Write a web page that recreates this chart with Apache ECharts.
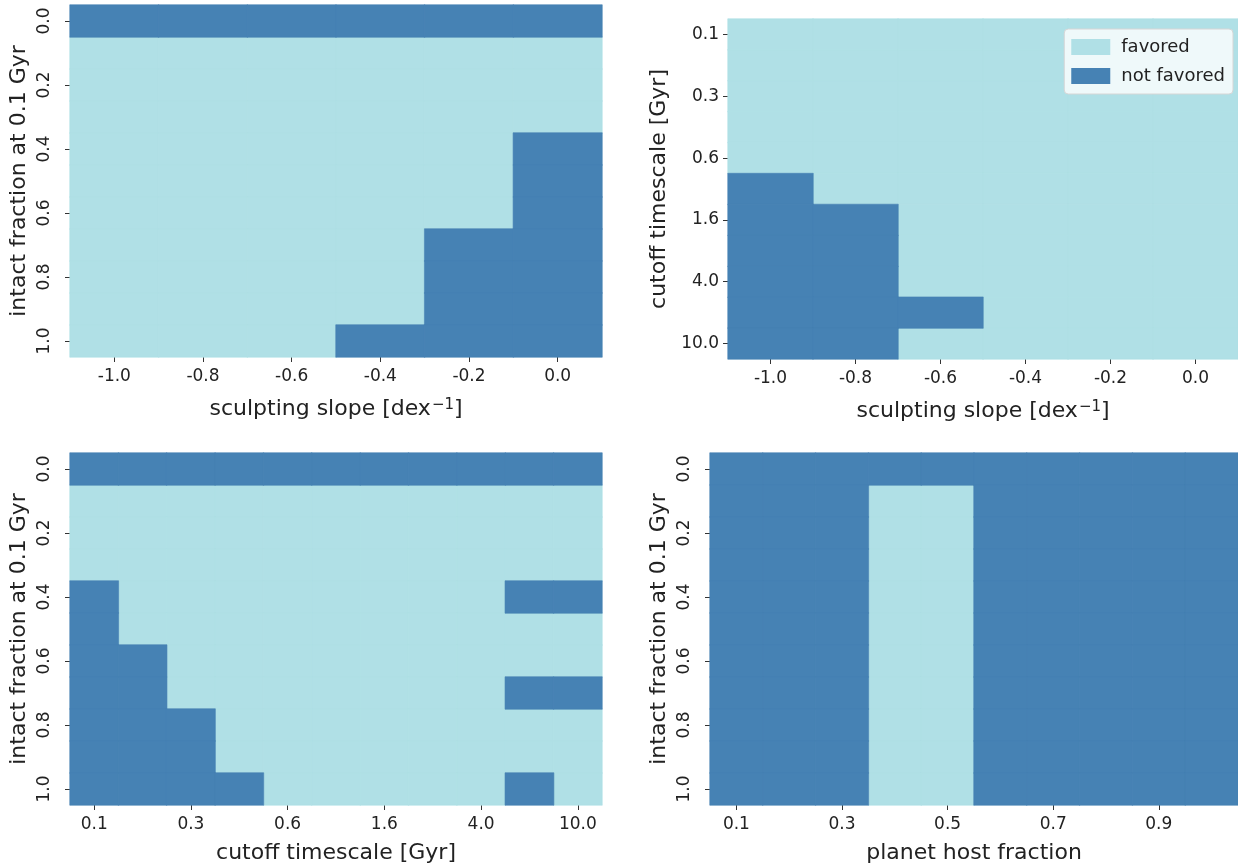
<!DOCTYPE html>
<html>
<head>
<meta charset="utf-8">
<title>Favored parameter regions</title>
<script src="https://cdn.jsdelivr.net/npm/echarts@6/dist/echarts.min.js"></script>
<style>
  html, body { margin: 0; padding: 0; background: #ffffff; }
  #chart { width: 1238px; height: 867px; }
</style>
</head>
<body>
<div id="chart"></div>
<script>
// Axis categories
const slopeLabels = ['-1.0', '-0.8', '-0.6', '-0.4', '-0.2', '0.0'];
const intactLabels = ['0.0', '0.1', '0.2', '0.3', '0.4', '0.5', '0.6', '0.7', '0.8', '0.9', '1.0'];
const cutoffLabels = ['0.1', '0.2', '0.3', '0.4', '0.6', '1.0', '1.6', '2.5', '4.0', '6.3', '10.0'];
const hostLabels = ['0.1', '0.2', '0.3', '0.4', '0.5', '0.6', '0.7', '0.8', '0.9', '1.0'];

// Outcome grids: one row per y category (top to bottom), one column per x category.
// 1 = not favored, 0 = favored.
const slopeVsIntact = [
  [1, 1, 1, 1, 1, 1],
  [0, 0, 0, 0, 0, 0],
  [0, 0, 0, 0, 0, 0],
  [0, 0, 0, 0, 0, 0],
  [0, 0, 0, 0, 0, 1],
  [0, 0, 0, 0, 0, 1],
  [0, 0, 0, 0, 0, 1],
  [0, 0, 0, 0, 1, 1],
  [0, 0, 0, 0, 1, 1],
  [0, 0, 0, 0, 1, 1],
  [0, 0, 0, 1, 1, 1]
];

const slopeVsCutoff = [
  [0, 0, 0, 0, 0, 0],
  [0, 0, 0, 0, 0, 0],
  [0, 0, 0, 0, 0, 0],
  [0, 0, 0, 0, 0, 0],
  [0, 0, 0, 0, 0, 0],
  [1, 0, 0, 0, 0, 0],
  [1, 1, 0, 0, 0, 0],
  [1, 1, 0, 0, 0, 0],
  [1, 1, 0, 0, 0, 0],
  [1, 1, 1, 0, 0, 0],
  [1, 1, 0, 0, 0, 0]
];

const cutoffVsIntact = [
  [1, 1, 1, 1, 1, 1, 1, 1, 1, 1, 1],
  [0, 0, 0, 0, 0, 0, 0, 0, 0, 0, 0],
  [0, 0, 0, 0, 0, 0, 0, 0, 0, 0, 0],
  [0, 0, 0, 0, 0, 0, 0, 0, 0, 0, 0],
  [1, 0, 0, 0, 0, 0, 0, 0, 0, 1, 1],
  [1, 0, 0, 0, 0, 0, 0, 0, 0, 0, 0],
  [1, 1, 0, 0, 0, 0, 0, 0, 0, 0, 0],
  [1, 1, 0, 0, 0, 0, 0, 0, 0, 1, 1],
  [1, 1, 1, 0, 0, 0, 0, 0, 0, 0, 0],
  [1, 1, 1, 0, 0, 0, 0, 0, 0, 0, 0],
  [1, 1, 1, 1, 0, 0, 0, 0, 0, 1, 0]
];

const hostVsIntact = [
  [1, 1, 1, 1, 1, 1, 1, 1, 1, 1],
  [1, 1, 1, 0, 0, 1, 1, 1, 1, 1],
  [1, 1, 1, 0, 0, 1, 1, 1, 1, 1],
  [1, 1, 1, 0, 0, 1, 1, 1, 1, 1],
  [1, 1, 1, 0, 0, 1, 1, 1, 1, 1],
  [1, 1, 1, 0, 0, 1, 1, 1, 1, 1],
  [1, 1, 1, 0, 0, 1, 1, 1, 1, 1],
  [1, 1, 1, 0, 0, 1, 1, 1, 1, 1],
  [1, 1, 1, 0, 0, 1, 1, 1, 1, 1],
  [1, 1, 1, 0, 0, 1, 1, 1, 1, 1],
  [1, 1, 1, 0, 0, 1, 1, 1, 1, 1]
];

const FAVORED = '#b0e0e6';
const NOT_FAVORED = '#4682b4';
const TEXT = '#222222';
const FONT = 'DejaVu Sans';
const TICK_SIZE = 17;
const NAME_SIZE = 22;

// Turn a grid into heatmap cells [xIndex, yIndex, value] holding the given flag.
function cells(grid, flag) {
  const out = [];
  grid.forEach((row, yi) => row.forEach((v, xi) => {
    if (v === flag) out.push([xi, yi, v]);
  }));
  return out;
}

const nameRich = {
  base: { fontSize: NAME_SIZE, color: TEXT, fontFamily: FONT },
  sup: { fontSize: 15, color: TEXT, fontFamily: FONT, verticalAlign: 'top', padding: [0, 0, 0, 1] }
};

function xAxis(gridIndex, data, every, name, gap) {
  return {
    type: 'category', gridIndex, data,
    name, nameLocation: 'middle', nameGap: gap,
    nameTextStyle: { fontSize: NAME_SIZE, color: TEXT, fontFamily: FONT, rich: nameRich },
    axisLine: { show: false },
    axisTick: { show: true, alignWithLabel: true, interval: every, length: 5, lineStyle: { color: '#333', width: 1 } },
    axisLabel: { interval: every, margin: 11, fontSize: TICK_SIZE, color: TEXT, fontFamily: FONT },
    splitLine: { show: false }
  };
}

function yAxis(gridIndex, data, every, name, gap, rotate, margin) {
  return {
    type: 'category', gridIndex, data, inverse: true,
    name, nameLocation: 'middle', nameGap: gap,
    nameTextStyle: { fontSize: NAME_SIZE, color: TEXT, fontFamily: FONT },
    axisLine: { show: false },
    axisTick: { show: true, alignWithLabel: true, interval: every, length: 5, lineStyle: { color: '#333', width: 1 } },
    axisLabel: { interval: every, rotate, margin, fontSize: TICK_SIZE, color: TEXT, fontFamily: FONT },
    splitLine: { show: false }
  };
}

// Each panel gets one series per outcome so the legend picks up both colours.
const panels = [slopeVsIntact, slopeVsCutoff, cutoffVsIntact, hostVsIntact];
const series = [];
panels.forEach((grid, i) => {
  [['favored', 0, FAVORED], ['not favored', 1, NOT_FAVORED]].forEach(([name, flag, color]) => {
    series.push({
      name, type: 'heatmap', xAxisIndex: i, yAxisIndex: i,
      data: cells(grid, flag),
      itemStyle: { color, borderColor: color, borderWidth: 0.6 },
      emphasis: { disabled: true }, animation: false
    });
  });
});

const chart = echarts.init(document.getElementById('chart'), null, { renderer: 'canvas' });
chart.setOption({
  backgroundColor: '#ffffff',
  animation: false,
  textStyle: { fontFamily: FONT },
  grid: [
    { left: 70, top: 5, width: 532, height: 352 },
    { left: 728, top: 19, width: 510, height: 340 },
    { left: 70, top: 453, width: 532, height: 352 },
    { left: 710, top: 453, width: 528, height: 352 }
  ],
  xAxis: [
    xAxis(0, slopeLabels, 0, '{base|sculpting slope [dex}{sup|−1}{base|]}', 41),
    xAxis(1, slopeLabels, 0, '{base|sculpting slope [dex}{sup|−1}{base|]}', 41),
    xAxis(2, cutoffLabels, 1, 'cutoff timescale [Gyr]', 37),
    xAxis(3, hostLabels, 1, 'planet host fraction', 37)
  ],
  yAxis: [
    yAxis(0, intactLabels, 1, 'intact fraction at 0.1 Gyr', 40, 90, 17),
    yAxis(1, cutoffLabels, 1, 'cutoff timescale [Gyr]', 58, 0, 9),
    yAxis(2, intactLabels, 1, 'intact fraction at 0.1 Gyr', 40, 90, 17),
    yAxis(3, intactLabels, 1, 'intact fraction at 0.1 Gyr', 40, 90, 17)
  ],
  legend: {
    data: ['favored', 'not favored'],
    orient: 'vertical',
    right: 5, top: 29,
    icon: 'rect',
    itemWidth: 37, itemHeight: 14, itemGap: 11,
    padding: [9, 8, 9, 7],
    backgroundColor: 'rgba(255,255,255,0.8)',
    borderColor: '#d6d6d6', borderWidth: 1, borderRadius: 4,
    selectedMode: false,
    textStyle: { fontSize: 18, color: TEXT, fontFamily: FONT, padding: [0, 0, 0, 7] }
  },
  series
});
</script>
</body>
</html>
